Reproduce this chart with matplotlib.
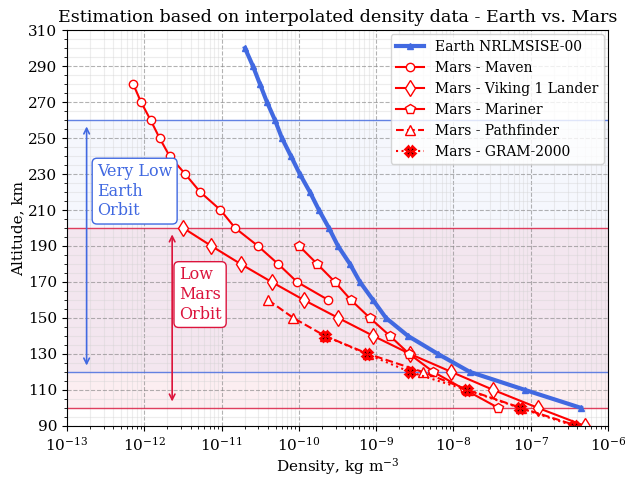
import numpy as np
import matplotlib
matplotlib.use("Agg")
import matplotlib.pyplot as plt
from matplotlib.ticker import MultipleLocator, LogLocator, NullFormatter

plt.rcParams['font.family'] = 'DejaVu Serif'
plt.rcParams['mathtext.fontset'] = 'dejavuserif'

# Earth NRLMSISE-00 (every 10 km)
earth_alt = [300, 290, 280, 270, 260, 250, 240, 230, 220, 210, 200,
             190, 180, 170, 160, 150, 140, 130, 120, 110, 100]
earth_rho = [2.01e-11, 2.55e-11, 3.14e-11, 3.87e-11, 4.91e-11, 6.04e-11,
             7.9e-11, 1.03e-10, 1.39e-10, 1.82e-10, 2.45e-10, 3.21e-10,
             4.58e-10, 6.17e-10, 9.1e-10, 1.34e-9, 2.58e-9, 6.3e-9,
             1.63e-8, 8.4e-8, 4.46e-7]

maven_alt = [280, 270, 260, 250, 240, 230, 220, 210, 200, 190, 180, 170, 160]
maven_rho = [7.2e-13, 9.1e-13, 1.21e-12, 1.58e-12, 2.13e-12, 3.39e-12, 5.3e-12,
             9.7e-12, 1.5e-11, 2.96e-11, 5.4e-11, 9.5e-11, 2.4e-10]

viking_alt = [200, 190, 180, 170, 160, 150, 140, 130, 120, 110, 100, 90]
viking_rho = [3.2e-12, 7.4e-12, 1.77e-11, 4.45e-11, 1.16e-10, 3.24e-10, 9.2e-10,
              2.74e-9, 9.4e-9, 3.27e-8, 1.24e-7, 5.0e-7]

mariner_alt = [190, 180, 170, 160, 150, 140, 130, 120, 110, 100]
mariner_rho = [1.01e-10, 1.73e-10, 2.93e-10, 4.72e-10, 8.3e-10, 1.51e-9,
               2.68e-9, 5.5e-9, 1.43e-8, 3.8e-8]

pathfinder_alt = [160, 150, 140, 130, 120, 110, 100, 90]
pathfinder_rho = [4.0e-11, 8.5e-11, 2.18e-10, 7.9e-10, 4.0e-9, 1.54e-8, 7.5e-8, 4.0e-7]

gram_alt = [140, 130, 120, 110, 100, 90]
gram_rho = [2.18e-10, 7.5e-10, 2.74e-9, 1.48e-8, 7.2e-8, 3.6e-7]

blue = 'royalblue'
crim = 'crimson'

fig, ax = plt.subplots(figsize=(6.25, 4.78), dpi=100)

# orbit bands
ax.axhspan(120, 260, color=blue, alpha=0.05, lw=0)
ax.axhspan(100, 200, color=crim, alpha=0.07, lw=0)
for h in (120, 260):
    ax.axhline(h, color=blue, lw=1, alpha=0.8)
for h in (100, 200):
    ax.axhline(h, color=crim, lw=1, alpha=0.8)

ax.plot(earth_rho, earth_alt, '-^', color=blue, lw=3, ms=5,
        label='Earth NRLMSISE-00')
ax.plot(maven_rho, maven_alt, '-o', color='red', mfc='white', ms=6,
        label='Mars - Maven')
ax.plot(viking_rho, viking_alt, '-d', color='red', mfc='white', ms=8,
        label='Mars - Viking 1 Lander')
ax.plot(mariner_rho, mariner_alt, '-p', color='red', mfc='white', ms=7,
        label='Mars - Mariner')
ax.plot(pathfinder_rho, pathfinder_alt, '--^', color='red', mfc='white', ms=7,
        label='Mars - Pathfinder')
ax.plot(gram_rho, gram_alt, ':X', color='red', mfc='black', mec='red', mew=1.8,
        ms=7, label='Mars - GRAM-2000')

# arrows + labels
ax.annotate('', xy=(1.8e-13, 258), xytext=(1.8e-13, 122),
            arrowprops=dict(arrowstyle='<->', color=blue, lw=1.2))
ax.annotate('', xy=(2.3e-12, 198), xytext=(2.3e-12, 102),
            arrowprops=dict(arrowstyle='<->', color=crim, lw=1.2))
ax.text(2.45e-13, 220.5, 'Very Low\nEarth\nOrbit', color=blue, fontsize=11.5,
        va='center', ha='left',
        bbox=dict(boxstyle='round', fc='white', ec=blue))
ax.text(2.8e-12, 163, 'Low\nMars\nOrbit', color=crim, fontsize=11.5,
        va='center', ha='left',
        bbox=dict(boxstyle='round', fc='white', ec=crim))

ax.set_xscale('log')
ax.set_xlim(1e-13, 1e-6)
ax.set_ylim(90, 310)
ax.set_yticks(np.arange(90, 311, 20))
ax.yaxis.set_minor_locator(MultipleLocator(5))
ax.xaxis.set_major_locator(LogLocator(base=10, numticks=10))
ax.xaxis.set_minor_locator(LogLocator(base=10, subs=np.arange(2, 10), numticks=10))
ax.xaxis.set_minor_formatter(NullFormatter())
ax.tick_params(labelsize=11)

ax.grid(True, which='major', ls='--', color='gray', alpha=0.6)
ax.grid(True, which='minor', ls='-', color='lightgray', alpha=0.4)

ax.set_xlabel('Density, kg m$^{-3}$', fontsize=11, labelpad=2)
ax.set_ylabel('Altitude, km', fontsize=11, labelpad=2)
ax.set_title('Estimation based on interpolated density data - Earth vs. Mars',
             fontsize=12.6)
ax.legend(loc='upper right', fontsize=10, borderaxespad=0.3)

fig.subplots_adjust(left=0.107, right=0.973, top=0.937, bottom=0.109)
fig.savefig('out.png', dpi=100)
